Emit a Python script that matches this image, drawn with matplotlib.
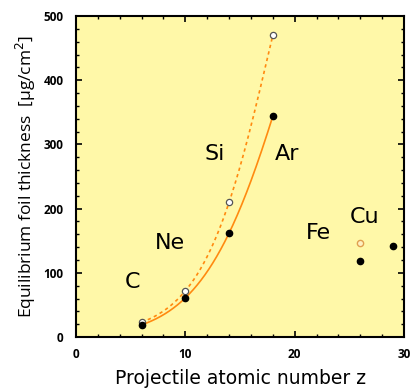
import numpy as np
import matplotlib
matplotlib.use("Agg")
import matplotlib.pyplot as plt
from matplotlib.ticker import MultipleLocator

z_fit = [6, 10, 14, 18]
open_y = [23, 72, 210, 470]
filled_y = [19, 61, 162, 344]
extra_filled_z = [26, 29]
extra_filled_y = [119, 142]
extra_open_z = [26]
extra_open_y = [146]
labels = ["C", "Ne", "Si", "Ar", "Fe", "Cu"]
label_x = [5.2, 8.6, 12.7, 19.3, 22.2, 26.4]
label_y = [86, 146, 285, 285, 162, 187]

plt.rcParams['font.family'] = ['Open Sans', 'DejaVu Sans']
fig = plt.figure(figsize=(4.11, 3.91), dpi=100)
ax = fig.add_axes([0.185, 0.138, 0.798, 0.821])
ax.set_facecolor('#FFF8A8')

orange = '#FF8A10'
zz = np.linspace(6, 18, 200)
p_open = np.polyfit(z_fit, np.log(open_y), 3)
p_fill = np.polyfit(z_fit, np.log(filled_y), 3)
ax.plot(zz, np.exp(np.polyval(p_open, zz)), color=orange, lw=1.2, ls=(0, (2, 2)))
ax.plot(zz, np.exp(np.polyval(p_fill, zz)), color=orange, lw=1.2)

ax.plot(z_fit, open_y, 'o', ms=4.5, mfc='white', mec='#555555', mew=0.9, zorder=5)
ax.plot(z_fit, filled_y, 'o', ms=4.5, mfc='black', mec='black', zorder=5)
ax.plot(extra_filled_z, extra_filled_y, 'o', ms=4.5, mfc='black', mec='black', zorder=5)
ax.plot(extra_open_z, extra_open_y, 'o', ms=4.5, mfc='#FFF0C0', mec='#E0A050', mew=1.0, zorder=5)

for t, x, y in zip(labels, label_x, label_y):
    ax.text(x, y, t, fontsize=16, ha='center', va='center', family=['DejaVu Sans'])

ax.set_xlim(0, 30)
ax.set_ylim(0, 500)
ax.xaxis.set_major_locator(MultipleLocator(10))
ax.xaxis.set_minor_locator(MultipleLocator(2))
ax.yaxis.set_major_locator(MultipleLocator(100))
ax.yaxis.set_minor_locator(MultipleLocator(20))
ax.tick_params(which='both', direction='in', top=True, right=True)
ax.tick_params(which='major', length=4, width=1.2, labelsize=8.5)
ax.tick_params(axis='x', which='major', pad=8)
ax.tick_params(axis='y', which='major', pad=9)
ax.tick_params(which='minor', length=2.5, width=1)
for lab in ax.get_xticklabels() + ax.get_yticklabels():
    lab.set_fontweight('bold')
for s in ax.spines.values():
    s.set_linewidth(1.5)

ax.set_xlabel('Projectile atomic number z', fontsize=13.5, labelpad=6, family=['DejaVu Sans'])
ax.set_ylabel('Equilibrium foil thickness  [µg/cm$^2$]', fontsize=12.5, labelpad=4)

fig.savefig('out.png', dpi=100, facecolor='white')
